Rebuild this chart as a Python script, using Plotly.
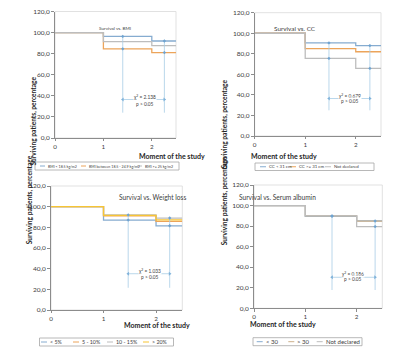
import plotly.graph_objects as go

# The page body keeps its default 8px margin, so the figure starts 8px in from the window edge.
OFF = 8
W, H = 407 - 2 * OFF, 355 - 2 * OFF

# ---------------- data ----------------
times = [0, 1, 2, 2.5]
x_ticks = [0, 1, 2]
y_ticks = [0, 20, 40, 60, 80, 100, 120]

bmi_names = ["BMI < 18.5 kg/m2", "BMI between 18.5 - 24.9 kg/m2", "BMI >= 25 kg/m2"]
bmi_under = [100, 96.4, 92.0, 92.0]
bmi_normal = [100, 84.6, 81.0, 81.0]
bmi_over = [100, 91.4, 87.6, 87.6]

cc_names = ["CC < 31 cm", "CC >= 31 cm", "Not declared"]
cc_low = [100, 90.6, 88.0, 88.0]
cc_high = [100, 85.0, 82.0, 82.0]
cc_nd = [100, 75.5, 65.8, 65.8]

wl_names = ["< 5%", "5 - 10%", "10 - 15%", "> 20%"]
wl_lt5 = [100, 87.0, 81.5, 81.5]
wl_5_10 = [100, 91.0, 85.8, 85.8]
wl_10_15 = [100, 92.0, 89.0, 89.0]
wl_gt20 = [100, 91.5, 87.2, 87.2]

alb_names = ["< 30", "> 30", "Not declared"]
alb_low = [100, 89.6, 85.0, 85.0]
alb_high = [100, 90.0, 84.8, 84.8]
alb_nd = [100, 90.0, 79.5, 79.5]

titles = ["Survival vs. BMI", "Survival vs. CC", "Survival vs. Weight loss", "Survival vs. Serum albumin"]
chi_values = ["2.138", "0.679", "1.033", "0.186"]
p_text = "p > 0.05"
x_title = "Moment of the study"
y_title = "Surviving patients, percentage"

# ---------------- styles / layout positions (window pixels) ----------------
BLUE, ORANGE, GRAY, YELLOW, TAN = "#86acd0", "#eca45a", "#bdbdbd", "#f7c534", "#cdb08a"
BRACKET = "#a8cde6"
FONT = "Lato"

panels = [
    dict(series=[bmi_under, bmi_normal, bmi_over], names=bmi_names, colors=[BLUE, ORANGE, GRAY],
         px=(55, 176), py=(11.5, 138), title_pos=(97, 23), title_size=4.6,
         xt_pos=(136.7, 155.5), yt_pos=(26.5, 75),
         brackets=(1.40, 2.26), vbottom=24, arrow_y=36.5, chi_y=38.6, p_y=32.6, txt_x=1.86,
         leg_box=(35, 162, 179, 170), leg_lines=[40, 81, 137], leg_size=3.6),
    dict(series=[cc_low, cc_high, cc_nd], names=cc_names, colors=[BLUE, ORANGE, GRAY],
         px=(254.7, 381), py=(12.7, 136), title_pos=(318, 23.3), title_size=6.4,
         xt_pos=(318.7, 156), yt_pos=(223.5, 77.5),
         brackets=(1.47, 2.28), vbottom=25, arrow_y=36.5, chi_y=39.2, p_y=34.0, txt_x=1.89,
         leg_box=(255, 163, 374, 170.5), leg_lines=[260, 290, 325], leg_size=4.4),
    dict(series=[wl_lt5, wl_5_10, wl_10_15, wl_gt20], names=wl_names, colors=[BLUE, ORANGE, GRAY, YELLOW],
         px=(51, 182.3), py=(186, 310), title_pos=(116.7, 196.7), title_size=6.6,
         xt_pos=(122, 330.5), yt_pos=(22.5, 246.7),
         brackets=(1.47, 2.26), vbottom=21.5, arrow_y=35.1, chi_y=38.0, p_y=31.6, txt_x=1.89,
         leg_box=(39.5, 338, 173.5, 346), leg_lines=[41, 73, 107, 143], leg_size=5.3),
    dict(series=[alb_low, alb_high, alb_nd], names=alb_names, colors=[BLUE, TAN, GRAY],
         px=(254, 382.3), py=(185, 308.3), title_pos=(318, 196.7), title_size=6.6,
         xt_pos=(318.3, 329.5), yt_pos=(224, 246.7),
         brackets=(1.52, 2.36), vbottom=17.8, arrow_y=30.2, chi_y=33.7, p_y=28.6, txt_x=1.93,
         leg_box=(253, 337.7, 362, 345.7), leg_lines=[256.7, 288.3, 316.7], leg_size=6.0),
]


def fx(x):
    return (x - OFF) / W


def fy(y):
    return 1 - (y - OFF) / H


fig = go.Figure()
annotations = []
shapes = []

for i, p in enumerate(panels):
    n = i + 1
    xa = "x" if n == 1 else f"x{n}"
    ya = "y" if n == 1 else f"y{n}"
    xk = "xaxis" if n == 1 else f"xaxis{n}"
    yk = "yaxis" if n == 1 else f"yaxis{n}"

    # survival step curves
    for vals, name, col in zip(p["series"], p["names"], p["colors"]):
        fig.add_trace(go.Scatter(x=times, y=vals, mode="lines", line=dict(color=col, width=1.3, shape="hv"),
                                 name=name, showlegend=False, xaxis=xa, yaxis=ya, hoverinfo="skip"))

    # comparison brackets (vertical lines with markers at curve extremes)
    for bx in p["brackets"]:
        idx = max(j for j, t in enumerate(times[:-1]) if t <= bx)
        seg = [s[idx] for s in p["series"]]
        top, low = max(seg), min(seg)
        fig.add_trace(go.Scatter(x=[bx, bx], y=[p["vbottom"], top], mode="lines",
                                 line=dict(color=BRACKET, width=0.8), showlegend=False,
                                 xaxis=xa, yaxis=ya, hoverinfo="skip"))
        fig.add_trace(go.Scatter(x=[bx, bx], y=[top, low], mode="markers",
                                 marker=dict(color="#6fa3d0", size=2.6, symbol="diamond"), showlegend=False,
                                 xaxis=xa, yaxis=ya, hoverinfo="skip"))
    b0, b1 = p["brackets"]
    fig.add_trace(go.Scatter(x=[b0, b1], y=[p["arrow_y"], p["arrow_y"]], mode="lines+markers",
                             line=dict(color=BRACKET, width=0.8),
                             marker=dict(symbol=["triangle-left", "triangle-right"], size=3.5, color="#7fb2da"),
                             showlegend=False, xaxis=xa, yaxis=ya, hoverinfo="skip"))
    annotations.append(dict(x=p["txt_x"], y=p["chi_y"], xref=xa, yref=ya, text=f"χ<sup>2</sup> = {chi_values[i]}",
                            showarrow=False, font=dict(family=FONT, size=4.8, color="#404040"),
                            bgcolor="white", borderpad=0))
    annotations.append(dict(x=p["txt_x"], y=p["p_y"], xref=xa, yref=ya, text=p_text,
                            showarrow=False, font=dict(family=FONT, size=4.8, color="#404040"),
                            bgcolor="white", borderpad=0))

    # axes
    fig.layout[xk] = dict(domain=[fx(p["px"][0]), fx(p["px"][1])], anchor=ya, range=[0, 2.5],
                          tickvals=x_ticks, tickformat="d", showline=True, linecolor="#8c8c8c", linewidth=0.8,
                          ticks="outside", ticklen=2.5, tickcolor="#8c8c8c", tickwidth=0.8,
                          showgrid=False, zeroline=False, automargin=False, ticklabeloverflow="allow",
                          tickfont=dict(family=FONT, size=6.3, color="#404040"))
    fig.layout[yk] = dict(domain=[fy(p["py"][1]), fy(p["py"][0])], anchor=xa, range=[0, 120],
                          tickvals=y_ticks, tickformat=".1f", showline=True, linecolor="#8c8c8c", linewidth=0.8,
                          ticks="outside", ticklen=3, tickcolor="#8c8c8c", tickwidth=0.8,
                          showgrid=False, zeroline=False, automargin=False, ticklabeloverflow="allow",
                          tickfont=dict(family=FONT, size=6.5, color="#404040"))
    # plot area frame
    shapes.append(dict(type="rect", xref=f"{xa} domain", yref=f"{ya} domain", x0=0, x1=1, y0=0, y1=1,
                       line=dict(color="#d9d9d9", width=0.8), layer="below"))

    # titles
    annotations.append(dict(x=fx(p["title_pos"][0]), y=fy(p["title_pos"][1]), xref="paper", yref="paper",
                            text=titles[i], showarrow=False, font=dict(family=FONT, size=p["title_size"], color="#404040")))
    annotations.append(dict(x=fx(p["xt_pos"][0]), y=fy(p["xt_pos"][1]), xref="paper", yref="paper",
                            text=f"<b>{x_title}</b>", showarrow=False, font=dict(family=FONT, size=7.0, color="#262626")))
    annotations.append(dict(x=fx(p["yt_pos"][0]), y=fy(p["yt_pos"][1]), xref="paper", yref="paper",
                            text=f"<b>{y_title}</b>", textangle=-90, showarrow=False,
                            font=dict(family=FONT, size=6.6, color="#262626")))

    # legend box (drawn manually)
    lx0, ly0, lx1, ly1 = p["leg_box"]
    shapes.append(dict(type="rect", xref="paper", yref="paper", x0=fx(lx0), x1=fx(lx1), y0=fy(ly1), y1=fy(ly0),
                       line=dict(color="#a6a6a6", width=0.8), fillcolor="white"))
    ymid = (ly0 + ly1) / 2
    seglen = 6 if p["leg_size"] > 4 else 5
    for lxs, name, col in zip(p["leg_lines"], p["names"], p["colors"]):
        shapes.append(dict(type="line", xref="paper", yref="paper", x0=fx(lxs), x1=fx(lxs + seglen),
                           y0=fy(ymid), y1=fy(ymid), line=dict(color=col, width=1)))
        annotations.append(dict(x=fx(lxs + seglen + 0.8), y=fy(ymid), xref="paper", yref="paper", text=name,
                                xanchor="left", yanchor="middle", showarrow=False,
                                font=dict(family=FONT, size=p["leg_size"], color="#404040")))

fig.update_layout(template="none", width=W, height=H, margin=dict(l=0, r=0, t=0, b=0), paper_bgcolor="white",
                  plot_bgcolor="white", separators=",.", showlegend=False,
                  annotations=annotations, shapes=shapes)

fig.write_html("out.html")
